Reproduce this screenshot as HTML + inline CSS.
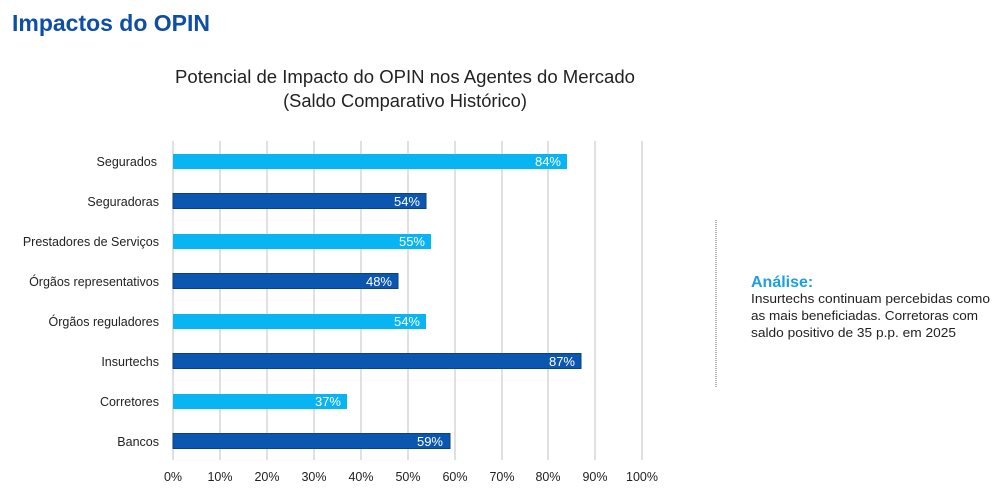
<!DOCTYPE html>
<html>
<head>
<meta charset="utf-8">
<style>
html,body{margin:0;padding:0;background:#fff;}
body{width:1000px;height:495px;overflow:hidden;}
svg{display:block;}
text{font-family:"Liberation Sans",sans-serif;}
</style>
</head>
<body>
<svg width="1000" height="495" viewBox="0 0 1000 495" xmlns="http://www.w3.org/2000/svg">
  <rect width="1000" height="495" fill="#fff"/>
  <text x="12" y="31" font-size="23" font-weight="bold" fill="#0d4ea6" textLength="198" lengthAdjust="spacingAndGlyphs">Impactos do OPIN</text>
  <text x="405" y="83" font-size="18.3" fill="#222" text-anchor="middle" textLength="460" lengthAdjust="spacingAndGlyphs">Potencial de Impacto do OPIN nos Agentes do Mercado</text>
  <text x="405" y="107" font-size="18.3" fill="#222" text-anchor="middle">(Saldo Comparativo Histórico)</text>

  <!-- gridlines -->
  <g stroke="#cccccc" stroke-width="1.2">
    <line x1="173" y1="141" x2="173" y2="460"/>
    <line x1="220" y1="141" x2="220" y2="460"/>
    <line x1="267" y1="141" x2="267" y2="460"/>
    <line x1="314" y1="141" x2="314" y2="460"/>
    <line x1="361" y1="141" x2="361" y2="460"/>
    <line x1="408" y1="141" x2="408" y2="460"/>
    <line x1="455" y1="141" x2="455" y2="460"/>
    <line x1="502" y1="141" x2="502" y2="460"/>
    <line x1="548" y1="141" x2="548" y2="460"/>
    <line x1="595" y1="141" x2="595" y2="460"/>
    <line x1="642" y1="141" x2="642" y2="460"/>
  </g>

  <!-- bars -->
  <g>
    <rect x="173" y="154" width="394" height="15" fill="#08b4f2"/>
    <rect x="173" y="193.5" width="253" height="15" fill="#0b57b0" stroke="#0a3f8c" stroke-width="1"/>
    <rect x="173" y="234" width="258" height="15" fill="#08b4f2"/>
    <rect x="173" y="273.5" width="225" height="15" fill="#0b57b0" stroke="#0a3f8c" stroke-width="1"/>
    <rect x="173" y="314" width="253" height="15" fill="#08b4f2"/>
    <rect x="173" y="353.5" width="408" height="15" fill="#0b57b0" stroke="#0a3f8c" stroke-width="1"/>
    <rect x="173" y="394" width="174" height="15" fill="#08b4f2"/>
    <rect x="173" y="433.5" width="277" height="15" fill="#0b57b0" stroke="#0a3f8c" stroke-width="1"/>
  </g>

  <!-- value labels -->
  <g font-size="13" fill="#fff" text-anchor="end">
    <text x="561" y="166">84%</text>
    <text x="420" y="206">54%</text>
    <text x="425" y="246">55%</text>
    <text x="392" y="286">48%</text>
    <text x="420" y="326">54%</text>
    <text x="575" y="366">87%</text>
    <text x="341" y="406">37%</text>
    <text x="443" y="446">59%</text>
  </g>

  <!-- category labels -->
  <g font-size="12.5" fill="#222" text-anchor="end">
    <text x="157" y="166">Segurados</text>
    <text x="159" y="206">Seguradoras</text>
    <text x="159" y="246">Prestadores de Serviços</text>
    <text x="159" y="286">Órgãos representativos</text>
    <text x="159" y="326">Órgãos reguladores</text>
    <text x="159" y="366">Insurtechs</text>
    <text x="159" y="406">Corretores</text>
    <text x="159" y="446">Bancos</text>
  </g>

  <!-- x tick labels -->
  <g font-size="12.5" fill="#222" text-anchor="middle">
    <text x="173" y="481">0%</text>
    <text x="220" y="481">10%</text>
    <text x="267" y="481">20%</text>
    <text x="314" y="481">30%</text>
    <text x="361" y="481">40%</text>
    <text x="408" y="481">50%</text>
    <text x="455" y="481">60%</text>
    <text x="502" y="481">70%</text>
    <text x="548" y="481">80%</text>
    <text x="595" y="481">90%</text>
    <text x="642" y="481">100%</text>
  </g>

  <!-- analysis -->
  <line x1="716" y1="220" x2="716" y2="388" stroke="#666" stroke-width="1" stroke-dasharray="1,1"/>
  <text x="751" y="287" font-size="16" font-weight="bold" fill="#1ba1e2">Análise:</text>
  <g font-size="13" fill="#222">
    <text x="751" y="303" textLength="239" lengthAdjust="spacingAndGlyphs">Insurtechs continuam percebidas como</text>
    <text x="751" y="320" textLength="227" lengthAdjust="spacingAndGlyphs">as mais beneficiadas. Corretoras com</text>
    <text x="751" y="337" textLength="205" lengthAdjust="spacingAndGlyphs">saldo positivo de 35 p.p. em 2025</text>
  </g>
</svg>
</body>
</html>
